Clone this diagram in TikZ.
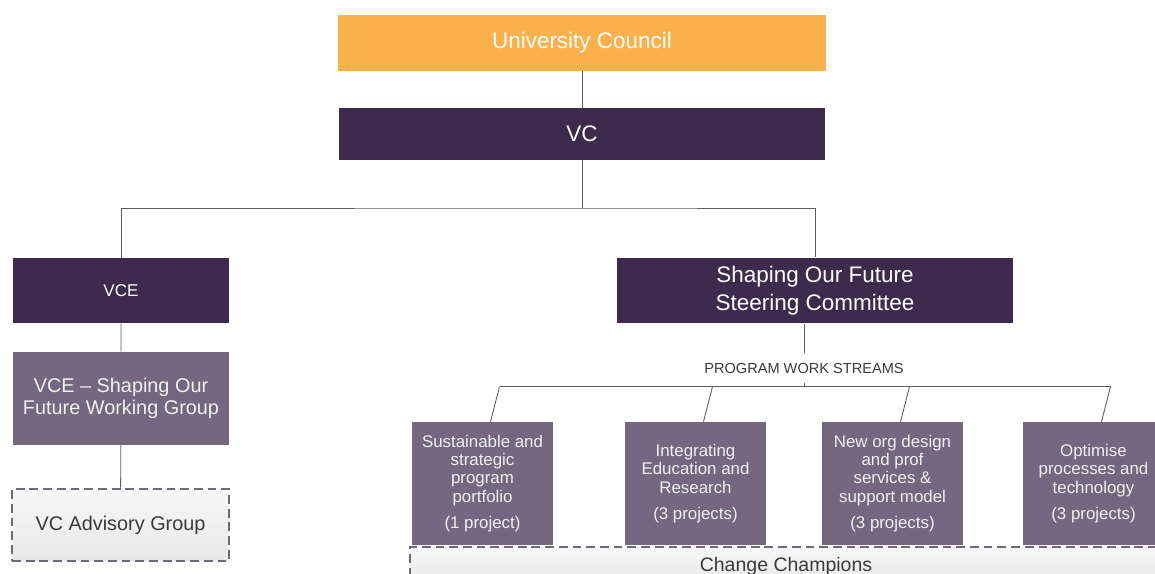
\documentclass[tikz,border=0pt]{standalone}
\usepackage{fontspec}
\setmainfont{Liberation Sans}
\usetikzlibrary{calc}
\definecolor{council}{HTML}{FAB14B}
\definecolor{exec}{HTML}{3D2B4D}
\definecolor{group}{HTML}{756780}
\definecolor{rim}{HTML}{6E6A75}
\definecolor{wire}{HTML}{5E5A64}
\definecolor{ink}{HTML}{3A3A3A}

\begin{document}
\begin{tikzpicture}[x=0.02cm,y=-0.02cm,
  box/.style={inner sep=0pt,align=center,text=white},
  head/.style={box,fill=exec,font=\fontsize{12.8}{15.9}\selectfont},
  wg/.style={box,fill=group,text=white!94!black,minimum width=2.82cm,minimum height=2.46cm,
    font=\fontsize{9.6}{10.4}\selectfont},
  adv/.style={box,draw=rim,line width=1.5pt,dash pattern=on 5pt off 2.8pt,
    top color=white!97!black,bottom color=white!91!black,text=ink},
  link/.style={draw=wire,line width=0.5pt}]
\useasboundingbox (0,0) rectangle (1155,574);
\clip (0,0) rectangle (1155,574);
% top of the tree
\node[head,fill=council,text=white!97!council,minimum width=9.76cm,minimum height=1.12cm] (uc) at (582,43) {University Council};
\node[head,minimum width=9.74cm,minimum height=1.04cm] (vc) at (582,134) {VC};
\node[head,font=\fontsize{9.7}{12}\selectfont,minimum width=4.32cm,minimum height=1.3cm] (vce) at (121,290.5) {VCE};
\node[head,minimum width=7.92cm,minimum height=1.32cm] (sof) at (815,290.5) {Shaping Our Future\\Steering Committee};
% left branch
\node[box,fill=group,text=white!94!black,font=\fontsize{11.3}{12.5}\selectfont,minimum width=4.32cm,minimum height=1.86cm] (wgrp) at (121,398.5) {VCE -- Shaping Our\\Future Working Group};
\node[adv,font=\fontsize{11.3}{13}\selectfont,minimum width=4.34cm,minimum height=1.44cm] (advg) at (120.5,525) {VC Advisory Group};
% work streams
\node[box,text=ink,font=\fontsize{8.3}{10}\selectfont,minimum height=0.58cm] (pws) at (804,368) {PROGRAM WORK STREAMS};
\node[wg] (b1) at (482.5,483.5) {Sustainable and\\strategic\\program\\portfolio\\[4.5pt](1 project)};
\node[wg] (b2) at (695.5,483.5) {Integrating\\Education and\\Research\\[4.5pt](3 projects)};
\node[wg] (b3) at (892.5,483.5) {New org design\\and prof\\services \&\\support model\\[4.5pt](3 projects)};
\node[wg] (b4) at (1093.5,483.5) {Optimise\\processes and\\technology\\[4.5pt](3 projects)};
\node[adv,font=\fontsize{11.1}{13}\selectfont,minimum width=15.04cm,minimum height=0.76cm] (champ) at (786,566) {Change Champions};
% connectors
\coordinate (fork) at (582,208);
\draw[link] (uc) -- (vc);
\draw[link] (vc) -- (fork);
\draw[link] (vce.north) |- (fork) -| (sof.north);
\draw[link] (vce) -- (wgrp) (wgrp) -- (advg);
\draw[link] (sof.south -| pws) -- (pws.north);
\foreach \b in {b1,b2,b3,b4}
  \draw[link] ([xshift=0.16cm]\b.north) -- ++(9,-35) coordinate (\b-up);
\draw[link] (b1-up) -- (b4-up);
\draw[link] (pws.south) -- (pws |- b1-up);
\end{tikzpicture}
\end{document}
